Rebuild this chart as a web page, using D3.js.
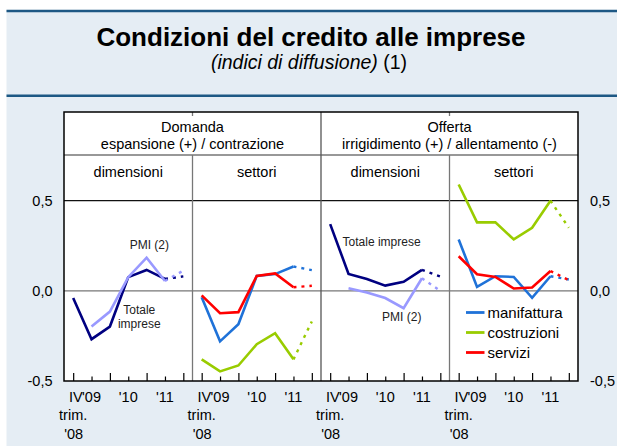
<!DOCTYPE html>
<html>
<head>
<meta charset="utf-8">
<script src="https://cdn.jsdelivr.net/npm/d3@7"></script>
<style>
  body { margin: 0; background: #fff; }
  svg { display: block; font-family: "Liberation Sans", Arial, sans-serif; }
</style>
</head>
<body>
<div id="chart"></div>
<script>
// Data
var tickLabels = ["IV", "'09", "", "'10", "", "'11", ""];
var firstTickSub = ["trim.", "'08"];
var groupTitles = [["Domanda", "espansione (+) / contrazione"], ["Offerta", "irrigidimento (+) / allentamento (-)"]];
var panelTitles = ["dimensioni", "settori", "dimensioni", "settori"];
var yTicks = [-0.5, 0, 0.5];

var domDimTotale = [-0.04, -0.268, -0.198, 0.076, 0.116, 0.066, 0.08];
var domDimPMI = [null, -0.198, -0.115, 0.076, 0.184, 0.055, 0.112];
var domSetManif = [-0.035, -0.28, -0.185, 0.083, 0.093, 0.135, 0.115];
var domSetCostr = [-0.38, -0.447, -0.414, -0.296, -0.235, -0.38, -0.17];
var domSetServ = [-0.025, -0.124, -0.118, 0.083, 0.097, 0.02, 0.028];
var offDimTotale = [0.37, 0.094, 0.066, 0.029, 0.05, 0.116, 0.08];
var offDimPMI = [null, 0.015, -0.009, -0.04, -0.096, 0.07, 0.0];
var offSetManif = [0.285, 0.022, 0.081, 0.077, -0.039, 0.081, 0.063];
var offSetCostr = [0.59, 0.38, 0.38, 0.285, 0.35, 0.50, 0.35];
var offSetServ = [0.192, 0.092, 0.077, 0.013, 0.019, 0.11, 0.059];

var legendNames = ["manifattura", "costruzioni", "servizi"];

var colors = {
  totale: "#000080", pmi: "#9999ff",
  manifattura: "#1f72d8", costruzioni: "#99cc00", servizi: "#ff0000"
};

// series per panel (draw order)
var panels = [
  [{ v: domDimTotale, c: colors.totale }, { v: domDimPMI, c: colors.pmi }],
  [{ v: domSetManif, c: colors.manifattura }, { v: domSetCostr, c: colors.costruzioni }, { v: domSetServ, c: colors.servizi }],
  [{ v: offDimTotale, c: colors.totale }, { v: offDimPMI, c: colors.pmi }],
  [{ v: offSetCostr, c: colors.costruzioni }, { v: offSetManif, c: colors.manifattura }, { v: offSetServ, c: colors.servizi }]
];

// annotations: panel, x index, y value, text
var notes = [
  { p: 0, i: 4.15, y: 0.233, t: "PMI (2)" },
  { p: 0, i: 3.6, y: -0.127, t: "Totale" },
  { p: 0, i: 3.6, y: -0.205, t: "imprese" },
  { p: 2, i: 2.8, y: 0.249, t: "Totale imprese" },
  { p: 2, i: 3.9, y: -0.166, t: "PMI (2)" }
];

// Chart setup
var W = 617, H = 446;
var frame = { left: 64, right: 578, top: 112, bottom: 381 };
var headerY = 155;

var svg = d3.select('#chart').append('svg')
  .attr('width', W).attr('height', H);

svg.append('rect').attr('x', 6.5).attr('y', 10).attr('width', W - 6.5).attr('height', H - 10)
  .attr('fill', '#e5edf4');
[11, 95.7].forEach(function (y) {
  svg.append('line').attr('x1', 6.5).attr('x2', W).attr('y1', y).attr('y2', y)
    .attr('stroke', '#1d5884').attr('stroke-width', 2.5);
});

svg.append('text').attr('x', 311).attr('y', 46).attr('text-anchor', 'middle')
  .attr('font-size', 26).attr('font-weight', 'bold').text('Condizioni del credito alle imprese');
var sub = svg.append('text').attr('x', 309).attr('y', 69).attr('text-anchor', 'middle').attr('font-size', 19.5);
sub.append('tspan').attr('font-style', 'italic').text('(indici di diffusione)');
sub.append('tspan').text(' (1)');

var panelScale = d3.scaleBand().domain([0, 1, 2, 3]).range([frame.left, frame.right]);
var yScale = d3.scaleLinear().domain([-0.5, 0.5]).range([frame.bottom, 200.7]);
function xScaleFor(p) {
  return d3.scalePoint().domain(d3.range(7))
    .range([panelScale(p), panelScale(p) + panelScale.bandwidth()]).padding(0.5);
}

// plot frame
svg.append('rect').attr('x', frame.left).attr('y', frame.top)
  .attr('width', frame.right - frame.left).attr('height', frame.bottom - frame.top)
  .attr('fill', '#fff');

// grid lines
svg.append('line').attr('x1', frame.left).attr('x2', frame.right)
  .attr('y1', yScale(0)).attr('y2', yScale(0)).attr('stroke', '#777').attr('stroke-width', 1.3);
svg.append('line').attr('x1', frame.left).attr('x2', frame.right)
  .attr('y1', yScale(0.5)).attr('y2', yScale(0.5)).attr('stroke', '#111').attr('stroke-width', 1.2);
svg.append('line').attr('x1', frame.left).attr('x2', frame.right)
  .attr('y1', headerY).attr('y2', headerY).attr('stroke', '#333').attr('stroke-width', 1.2);

[1, 3].forEach(function (p) {
  var x = panelScale(p);
  svg.append('line').attr('x1', x).attr('x2', x).attr('y1', headerY).attr('y2', frame.bottom)
    .attr('stroke', '#777').attr('stroke-width', 1.3);
  svg.append('line').attr('x1', x).attr('x2', x).attr('y1', frame.top).attr('y2', frame.top + 4)
    .attr('stroke', '#777').attr('stroke-width', 1.3);
});
svg.append('line').attr('x1', panelScale(2)).attr('x2', panelScale(2))
  .attr('y1', frame.top).attr('y2', frame.bottom).attr('stroke', '#555').attr('stroke-width', 1.3);

// headers
groupTitles.forEach(function (g, k) {
  var cx = panelScale(k * 2) + panelScale.bandwidth();
  svg.append('text').attr('x', cx).attr('y', 131.5).attr('text-anchor', 'middle')
    .attr('font-size', 14.5).text(g[0]);
  svg.append('text').attr('x', cx).attr('y', 148.5).attr('text-anchor', 'middle')
    .attr('font-size', 14.5).text(g[1]);
});
panelTitles.forEach(function (t, p) {
  svg.append('text').attr('x', panelScale(p) + panelScale.bandwidth() / 2).attr('y', 177)
    .attr('text-anchor', 'middle').attr('font-size', 14.5).text(t);
});

// series
panels.forEach(function (series, p) {
  var xs = xScaleFor(p);
  var g = svg.append('g');
  var line = d3.line()
    .defined(function (d) { return d.v != null; })
    .x(function (d) { return xs(d.i); })
    .y(function (d) { return yScale(d.v); });
  series.forEach(function (s) {
    var pts = s.v.map(function (v, i) { return { i: i, v: v }; });
    g.append('path').attr('d', line(pts.slice(0, 6))).attr('fill', 'none')
      .attr('stroke', s.c).attr('stroke-width', 2.6).attr('stroke-linejoin', 'miter');
    g.append('path').attr('d', line(pts.slice(5))).attr('fill', 'none')
      .attr('stroke', s.c).attr('stroke-width', 2.4).attr('stroke-dasharray', '3,5');
  });

  // x ticks: even tall, odd short
  var evenAxis = d3.axisBottom(xs).tickValues([0, 2, 4, 6]).tickSizeInner(-8).tickSizeOuter(0).tickFormat('');
  var oddAxis = d3.axisBottom(xs).tickValues([1, 3, 5]).tickSizeInner(-4.5).tickSizeOuter(0).tickFormat('');
  [evenAxis, oddAxis].forEach(function (ax) {
    var a = svg.append('g').attr('transform', 'translate(0,' + frame.bottom + ')').call(ax);
    a.select('.domain').remove();
    a.selectAll('line').attr('stroke', '#000').attr('stroke-width', 1.2);
  });

  tickLabels.forEach(function (t, i) {
    if (!t) return;
    svg.append('text').attr('x', xs(i) + (i === 0 ? 2.6 : 0)).attr('y', 402)
      .attr('text-anchor', 'middle').attr('font-size', 14.5).text(t);
  });
  firstTickSub.forEach(function (t, k) {
    svg.append('text').attr('x', xs(0) + (k === 1 ? 0.4 : 0)).attr('y', 420 + k * 19)
      .attr('text-anchor', 'middle').attr('font-size', 14.5).text(t);
  });
});

// frame border
svg.append('rect').attr('x', frame.left).attr('y', frame.top)
  .attr('width', frame.right - frame.left).attr('height', frame.bottom - frame.top)
  .attr('fill', 'none').attr('stroke', '#000').attr('stroke-width', 1.5);

// annotations
notes.forEach(function (n) {
  var xs = xScaleFor(n.p);
  svg.append('text').attr('x', xs(0) + n.i * xs.step()).attr('y', yScale(n.y))
    .attr('text-anchor', 'middle').attr('font-size', 12).attr('fill', '#222').text(n.t);
});

// legend
var lx = panelScale(3) + 16.5;
legendNames.forEach(function (name, k) {
  var y = 312.5 + k * 20;
  svg.append('line').attr('x1', lx).attr('x2', lx + 18.5).attr('y1', y).attr('y2', y)
    .attr('stroke', colors[name]).attr('stroke-width', 2.8);
  svg.append('text').attr('x', lx + 21.5).attr('y', y).attr('dy', '0.35em')
    .attr('font-size', 15).text(name);
});

// y axes
var locale = d3.formatLocale({ decimal: ",", thousands: ".", grouping: [3], currency: ["", "€"], minus: "-" });
var fmt = locale.format(".1f");
var left = svg.append('g').attr('transform', 'translate(' + frame.left + ',0)')
  .call(d3.axisLeft(yScale).tickValues(yTicks).tickSize(0).tickPadding(11.5).tickFormat(fmt));
var right = svg.append('g').attr('transform', 'translate(' + frame.right + ',0)')
  .call(d3.axisRight(yScale).tickValues(yTicks).tickSize(0).tickPadding(12).tickFormat(fmt));
[left, right].forEach(function (a) {
  a.select('.domain').remove();
  a.selectAll('text').attr('font-size', 14.5).attr('fill', '#000')
    .attr('font-family', '"Liberation Sans", Arial, sans-serif');
});
</script>
</body>
</html>
